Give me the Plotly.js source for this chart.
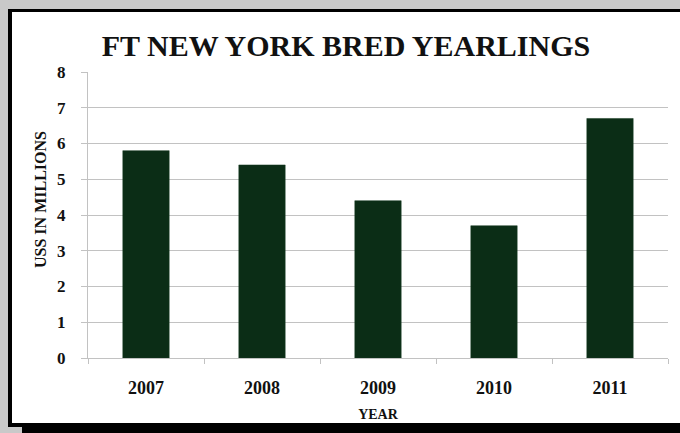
<!DOCTYPE html>
<html>
<head>
<meta charset="utf-8">
<script src="https://cdn.plot.ly/plotly-3.0.1.min.js"></script>
<style>
  html, body { margin: 0; padding: 0; background: #c9c9c9; width: 680px; height: 433px; overflow: hidden; }
  #frame { position: absolute; left: 8px; top: 9px; width: 680px; height: 411px; background: #ffffff;
           border-left: 4px solid #000; border-top: 3px solid #000; border-bottom: 4px solid #000; }
  #shadow { position: absolute; left: 22px; top: 427px; width: 670px; height: 6px; background: #000; }
  #chart { position: absolute; left: 0; top: 0; width: 680px; height: 433px; }
</style>
</head>
<body>
<div id="frame"></div>
<div id="shadow"></div>
<div id="chart"></div>
<script>
const years = ['2007', '2008', '2009', '2010', '2011'];
const salesMillions = [5.8, 5.4, 4.4, 3.7, 6.7];
const yTicks = [0, 1, 2, 3, 4, 5, 6, 7, 8];

const serif = 'Liberation Serif, Times New Roman, serif';
const grid = '#c2c2c2';

const trace = {
  type: 'bar',
  x: years,
  y: salesMillions,
  marker: { color: '#0b2d16', line: { color: '#163a20', width: 0.5 } },
  hoverinfo: 'x+y'
};

const layout = {
  width: 680,
  height: 433,
  margin: { l: 88, r: 12, t: 72, b: 75 },
  paper_bgcolor: 'rgba(0,0,0,0)',
  plot_bgcolor: 'rgba(0,0,0,0)',
  bargap: 0.6,
  showlegend: false,
  title: {
    text: 'FT NEW YORK BRED YEARLINGS',
    font: { family: serif, size: 30, color: '#111', weight: 'bold' },
    x: 346 / 680, xanchor: 'center', xref: 'container',
    y: 1 - 45 / 433, yanchor: 'middle', yref: 'container'
  },
  xaxis: {
    type: 'category',
    showline: true, linecolor: grid, linewidth: 1,
    ticks: 'outside', tickson: 'boundaries', ticklen: 5, tickcolor: grid,
    tickfont: { family: serif, size: 18, color: '#111', weight: 'bold' },
    ticklabelstandoff: 13,
    title: { text: 'YEAR', font: { family: serif, size: 14, color: '#111', weight: 'bold' }, standoff: 12 }
  },
  yaxis: {
    range: [0, 8],
    tickvals: yTicks,
    showgrid: true, gridcolor: grid, gridwidth: 1,
    showline: true, linecolor: grid, linewidth: 1,
    zeroline: false,
    ticks: 'outside', ticklen: 6, tickcolor: grid,
    tickfont: { family: serif, size: 17, color: '#111', weight: 'bold' },
    ticklabelstandoff: 12
  },
  annotations: [{
    text: 'USS IN MILLIONS',
    font: { family: serif, size: 16, color: '#111', weight: 'bold' },
    textangle: -90,
    xref: 'paper', yref: 'paper',
    x: (40 - 88) / 580, y: (358 - 200) / 286,
    xanchor: 'center', yanchor: 'middle',
    showarrow: false
  }]
};

Plotly.newPlot('chart', [trace], layout, { displayModeBar: false, staticPlot: true });
</script>
</body>
</html>
